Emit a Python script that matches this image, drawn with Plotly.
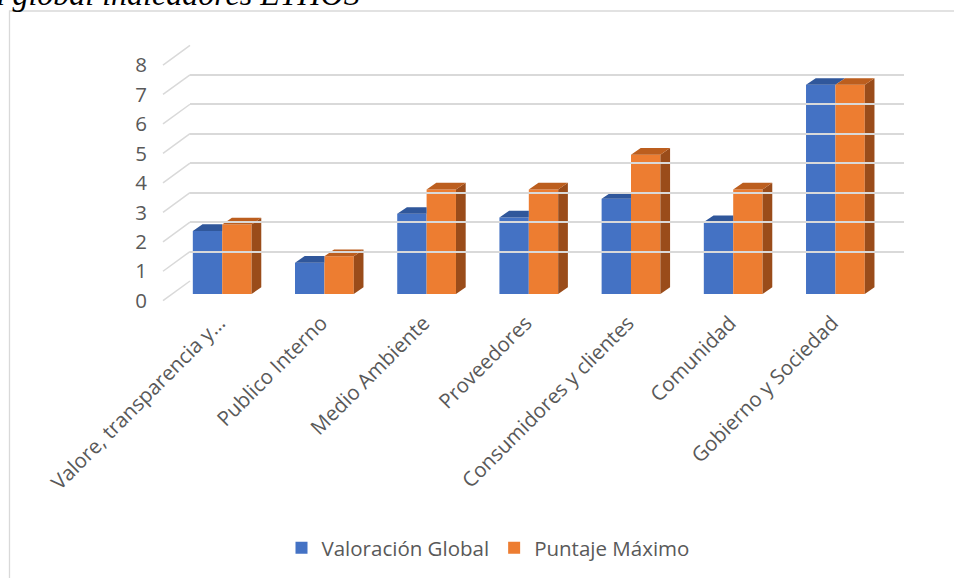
import plotly.graph_objects as go

# ---------------- data ----------------
categories = ["Valore, transparencia y…", "Publico Interno", "Medio Ambiente",
              "Proveedores", "Consumidores y clientes", "Comunidad", "Gobierno y Sociedad"]
valoracion_global = [2.14, 1.06, 2.72, 2.60, 3.23, 2.44, 7.10]
puntaje_maximo = [2.36, 1.28, 3.55, 3.55, 4.73, 3.55, 7.10]
y_ticks = [0, 1, 2, 3, 4, 5, 6, 7, 8]
series_names = ["Valoración Global", "Puntaje Máximo"]
title_text = "Valoración global indicadores ETHOS"

# ---------------- geometry (page pixels) ----------------
W, H = 954, 578
UNIT = 29.46            # px per value unit
CAT = 102.2             # px per category
BAR_X0, BAR_Y0 = 171.1, 294.0      # bar plane left / zero line
BACK_X0, BACK_Y0 = 190.0, 281.0    # back wall left / zero line
FRONT_X0, FRONT_Y0 = 163.0, 300.7  # floor front edge
BACK_X1 = 904.0
YMAX = 8
BARGAP = 0.425
DDX = 9.7 / CAT          # bar depth in category units
DDY = 6.7 / UNIT         # bar depth in value units

def fx(px):
    return px / W

def fy(py):
    return 1 - py / H

n = len(categories)
xs = list(range(n))

C_BLUE, C_ORANGE = "#4472C4", "#ED7D31"
C_BLUE_TOP, C_ORANGE_TOP, C_ORANGE_SIDE = "#30579B", "#BC5E1E", "#9A4C1A"
GRID = "#D9D9D9"
TXT = "#595959"
FONT = "Open Sans"
FS = 20.5

fig = go.Figure()

# front faces (bars)
for name, vals, col in [(series_names[0], valoracion_global, C_BLUE),
                        (series_names[1], puntaje_maximo, C_ORANGE)]:
    fig.add_trace(go.Bar(x=xs, y=vals, name=name, marker=dict(color=col, line=dict(width=0)),
                         xaxis="x2", yaxis="y2", hoverinfo="skip"))

bw = (1 - BARGAP) / 2

def poly_trace(pts_list, color):
    px_, py_ = [], []
    for pts in pts_list:
        for (a, b) in pts:
            px_.append(a)
            py_.append(b)
        px_.append(pts[0][0]); py_.append(pts[0][1])
        px_.append(None); py_.append(None)
    return go.Scatter(x=px_, y=py_, mode="lines", fill="toself", fillcolor=color,
                      line=dict(width=0, color=color), xaxis="x2", yaxis="y2",
                      showlegend=False, hoverinfo="skip")

blue_tops, orange_tops, orange_sides = [], [], []
for i, (b, o) in enumerate(zip(valoracion_global, puntaje_maximo)):
    xl = i - bw
    if o > b:
        blue_tops.append([(xl, b), (i, b), (i, b + DDY), (xl + DDX, b + DDY)])
    else:
        blue_tops.append([(xl, b), (i, b), (i + DDX, b + DDY), (xl + DDX, b + DDY)])
    orange_tops.append([(i, o), (i + bw, o), (i + bw + DDX, o + DDY), (i + DDX, o + DDY)])
    orange_sides.append([(i + bw, 0), (i + bw + DDX, DDY), (i + bw + DDX, o + DDY), (i + bw, o)])

fig.add_trace(poly_trace(orange_sides, C_ORANGE_SIDE))
fig.add_trace(poly_trace(blue_tops, C_BLUE_TOP))
fig.add_trace(poly_trace(orange_tops, C_ORANGE_TOP))

# dummy traces to realise the other axis systems
fig.add_trace(go.Scatter(x=[None], y=[None], xaxis="x3", yaxis="y3", showlegend=False, hoverinfo="skip"))
fig.add_trace(go.Scatter(x=[None], y=[None], xaxis="x", yaxis="y", showlegend=False, hoverinfo="skip"))

# slanted floor lines (computed from tick values)
shapes = []
for v in y_ticks:
    shapes.append(dict(type="line", xref="paper", yref="paper",
                       x0=fx(FRONT_X0), y0=fy(FRONT_Y0 - v * UNIT),
                       x1=fx(BACK_X0), y1=fy(BACK_Y0 - v * UNIT),
                       line=dict(color=GRID, width=1.5), layer="below"))
# chart border
shapes.append(dict(type="rect", xref="paper", yref="paper", x0=fx(9.5), y0=fy(600), x1=fx(975), y1=fy(11),
                   line=dict(color=GRID, width=1.3), layer="below"))

fig.update_layout(
    width=W, height=H,
    margin=dict(l=0, r=0, t=0, b=0, autoexpand=False),
    paper_bgcolor="white", plot_bgcolor="rgba(0,0,0,0)",
    barmode="group", bargap=BARGAP, bargroupgap=0,
    font=dict(family=FONT, color=TXT, size=FS),
    shapes=shapes,
    # label axis (front floor edge)
    xaxis=dict(domain=[fx(FRONT_X0), fx(FRONT_X0 + n * CAT)], range=[0, 1], visible=False),
    yaxis=dict(domain=[fy(FRONT_Y0), fy(FRONT_Y0 - YMAX * UNIT)], range=[0, YMAX],
               tickvals=y_ticks, showgrid=False, zeroline=False, showline=False,
               anchor="free", position=fx(147), ticks="",
               tickfont=dict(family=FONT, size=FS, color=TXT)),
    # bar plane
    xaxis2=dict(domain=[fx(BAR_X0), fx(BAR_X0 + n * CAT)], range=[-0.5, n - 0.5],
                anchor="y2", tickvals=xs, ticktext=categories, tickangle=-45,
                showgrid=False, zeroline=False, showline=False, ticks="",
                ticklabelstandoff=12, ticklabelshift=-3,
                tickfont=dict(family=FONT, size=FS, color=TXT)),
    yaxis2=dict(domain=[fy(BAR_Y0), fy(BAR_Y0 - YMAX * UNIT)], range=[0, YMAX],
                anchor="x2", visible=False),
    # back wall gridlines
    xaxis3=dict(domain=[fx(BACK_X0), fx(BACK_X1)], range=[0, 1], anchor="y3", visible=False),
    yaxis3=dict(domain=[fy(BACK_Y0), fy(BACK_Y0 - YMAX * UNIT)], range=[0, YMAX], anchor="x3",
                tickvals=y_ticks, showticklabels=False, showgrid=True, gridcolor=GRID,
                gridwidth=1.5, zeroline=False, showline=False, ticks=""),
    legend=dict(orientation="h", x=fx(488), xanchor="center", y=fy(548), yanchor="middle",
                font=dict(family=FONT, size=FS, color=TXT), traceorder="normal",
                itemwidth=30, bgcolor="rgba(0,0,0,0)"),
    annotations=[dict(text="<i>" + title_text + "</i>", xref="paper", yref="paper",
                      x=fx(362), y=fy(14), xanchor="right", yanchor="bottom", showarrow=False,
                      font=dict(family="Liberation Serif", size=32, color="black"))],
)

fig.write_html("out.html", config={"displayModeBar": False},
               post_script="document.body.style.margin='0';")
